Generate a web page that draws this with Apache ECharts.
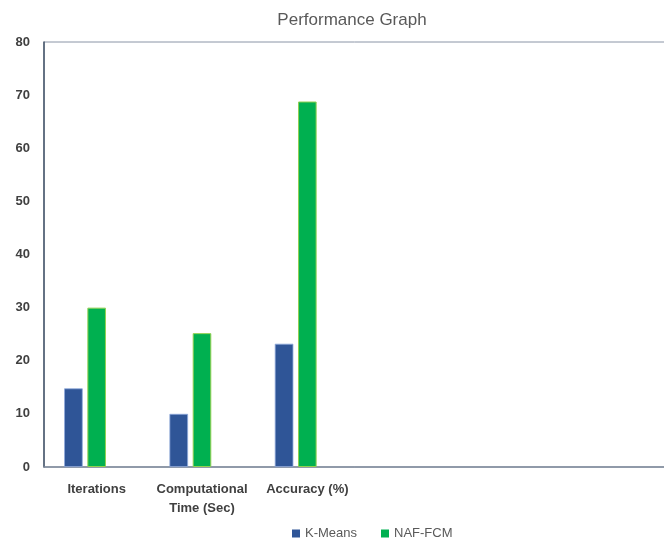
<!DOCTYPE html>
<html>
<head>
<meta charset="utf-8">
<script src="https://cdn.jsdelivr.net/npm/echarts@6/dist/echarts.min.js"></script>
<style>
  html, body { margin: 0; padding: 0; background: #fff; }
  #chart { width: 664px; height: 541px; }
</style>
</head>
<body>
<div id="chart"></div>
<script>
// categories (the last three are empty in the original sheet)
const categories = ["Iterations", "Computational\nTime (Sec)", "Accuracy (%)", "", "", ""];
const kMeans = [14.8, 10, 23.2, null, null, null];
const nafFcm = [30, 25.2, 68.8, null, null, null];
// third series is blank in the source, it only shifts the groups left
const blank = [null, null, null, null, null, null];
const yTicks = { min: 0, max: 80, interval: 10 };

const chart = echarts.init(document.getElementById("chart"));

const labelFont = "'Liberation Sans', 'DejaVu Sans', sans-serif";

chart.setOption({
    backgroundColor: "#fff",
    animation: false,
    title: {
        text: "Performance Graph",
        left: 347,
        top: 7,
        textAlign: "center",
        textStyle: {
            fontFamily: labelFont,
            fontSize: 17,
            fontWeight: "normal",
            color: "#595959",
        },
    },
    legend: {
        data: ["K-Means", "NAF-FCM"],
        left: 287,
        top: 522,
        icon: "rect",
        itemWidth: 8,
        itemHeight: 8,
        itemGap: 24,
        itemStyle: { borderWidth: 0 },
        textStyle: {
            fontFamily: labelFont,
            fontSize: 13,
            color: "#595959",
        },
    },
    grid: {
        left: 44,
        top: 42,
        width: 632,
        height: 425,
        show: true,
        borderColor: "#8a94a6",
        borderWidth: 1,
        containLabel: false,
        outerBoundsMode: "none",
    },
    xAxis: {
        type: "category",
        data: categories,
        axisTick: { show: false },
        axisLine: { lineStyle: { color: "#7f8a9c", width: 1.5 } },
        axisLabel: {
            margin: 13,
            interval: 0,
            fontFamily: labelFont,
            fontSize: 13,
            fontWeight: "bold",
            color: "#404040",
            lineHeight: 19,
        },
    },
    yAxis: {
        type: "value",
        min: yTicks.min,
        max: yTicks.max,
        interval: yTicks.interval,
        splitLine: { show: false },
        axisTick: { show: false },
        axisLine: { show: true, lineStyle: { color: "#44546a", width: 1.5 } },
        axisLabel: {
            margin: 14,
            fontFamily: labelFont,
            fontSize: 13,
            fontWeight: "bold",
            color: "#404040",
        },
    },
    series: [
        {
            name: "K-Means",
            type: "bar",
            data: kMeans,
            barWidth: 18.6,
            barGap: "25%",
            itemStyle: {
                color: "#2f5597",
                borderColor: "#8faadc",
                borderWidth: 0.8,
            },
        },
        {
            name: "NAF-FCM",
            type: "bar",
            data: nafFcm,
            barWidth: 18.6,
            itemStyle: {
                color: "#00b050",
                borderColor: "#92d050",
                borderWidth: 1,
            },
        },
        {
            name: "blank",
            type: "bar",
            data: blank,
            barWidth: 18.6,
        },
    ],
});
</script>
</body>
</html>
